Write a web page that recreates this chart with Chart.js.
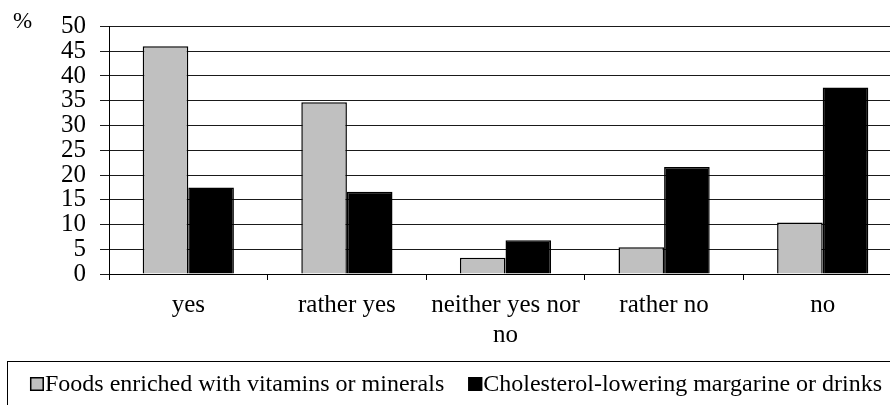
<!DOCTYPE html>
<html><head><meta charset="utf-8">
<script src="https://cdn.jsdelivr.net/npm/chart.js@4.4.0/dist/chart.umd.min.js"></script>
<style>
html,body{margin:0;padding:0;background:#fff;overflow:hidden;width:890px;height:405px}
#wrap{position:absolute;left:0;top:0;width:911px;height:425px}
canvas{display:block}
</style>
</head><body><div id="wrap"><canvas id="c" width="911" height="425" style="width:911px;height:425px"></canvas></div>
<script>
const categories = ['yes', 'rather yes', ['neither yes nor', 'no'], 'rather no', 'no'];
const seriesNames = ['Foods enriched with vitamins or minerals', 'Cholesterol-lowering margarine or drinks'];
const foodsValues = [46.0, 34.7, 3.3, 5.4, 10.4];
const margarineValues = [17.5, 16.6, 6.8, 21.6, 37.7];
const yTicks = [0, 5, 10, 15, 20, 25, 30, 35, 40, 45, 50];
const unitLabel = '%';

const FONT = '"Liberation Serif", "Times New Roman", serif';

const extras = {
  id: 'extras',
  afterDraw(chart) {
    const ctx = chart.ctx;
    ctx.save();
    // unit label
    ctx.fillStyle = '#000';
    ctx.font = '23px ' + FONT;
    ctx.textBaseline = 'alphabetic';
    ctx.textAlign = 'left';
    ctx.fillText(unitLabel, 13, 28);
    // legend box
    ctx.strokeStyle = '#000';
    ctx.lineWidth = 1;
    ctx.strokeRect(7.5, 361.5, 902, 58);
    // legend items
    ctx.font = '24px ' + FONT;
    const sq = 14, gap = 1, itemGap = 24;
    const ds = chart.data.datasets;
    const widths = ds.map(d => ctx.measureText(d.label).width);
    let total = 0;
    widths.forEach((w, i) => { total += sq + gap + w + (i < widths.length - 1 ? itemGap : 0); });
    let x = 456 - total / 2;
    ds.forEach((d, i) => {
      ctx.fillStyle = d.backgroundColor;
      ctx.fillRect(x, 377, sq, sq);
      ctx.strokeStyle = '#000';
      ctx.lineWidth = 1.5;
      ctx.strokeRect(x + 0.75, 377.75, sq - 1.5, sq - 1.5);
      ctx.fillStyle = '#000';
      ctx.fillText(d.label, x + sq + gap, 391);
      x += sq + gap + widths[i] + itemGap;
    });
    ctx.restore();
  }
};

new Chart(document.getElementById('c'), {
  type: 'bar',
  data: {
    labels: categories,
    datasets: [
      { label: seriesNames[0], data: foodsValues, backgroundColor: '#C0C0C0', borderColor: '#000', borderWidth: 1.5, barPercentage: 1, categoryPercentage: 0.575 },
      { label: seriesNames[1], data: margarineValues, backgroundColor: '#000000', borderColor: '#000', borderWidth: 1.5, barPercentage: 1, categoryPercentage: 0.575 }
    ]
  },
  options: {
    responsive: false,
    animation: false,
    devicePixelRatio: 1,
    layout: { padding: { top: 24, right: 9, bottom: 77, left: 0 } },
    plugins: { legend: { display: false }, tooltip: { enabled: false } },
    scales: {
      x: {
        offset: true,
        grid: { offset: true, drawOnChartArea: false, drawTicks: true, tickLength: 6, color: '#000', lineWidth: 1 },
        border: { color: '#000', width: 1 },
        ticks: { font: { family: FONT, size: 25, lineHeight: 1.2 }, color: '#000', padding: 10, maxRotation: 0, autoSkip: false },
        afterFit(s) { s.height = 74; }
      },
      y: {
        min: 0, max: 50,
        afterBuildTicks(s) { s.ticks = yTicks.map(v => ({ value: v })); },
        grid: { color: '#1a1a1a', lineWidth: 1, tickLength: 9 },
        border: { color: '#000', width: 1 },
        ticks: { font: { family: FONT, size: 25, lineHeight: 1 }, color: '#000', padding: 14, autoSkip: false },
        afterFit(s) { s.width = 109; }
      }
    }
  },
  plugins: [extras]
});
</script>
</body></html>
